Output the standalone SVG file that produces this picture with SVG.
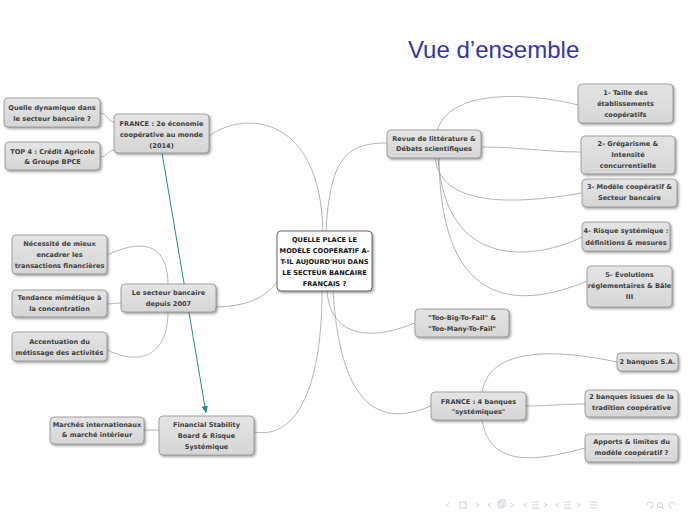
<svg xmlns="http://www.w3.org/2000/svg" width="689" height="517" viewBox="0 0 689 517">
<style>
.n{fill:url(#g);stroke:#8e8e8e;stroke-width:0.8;filter:url(#sh)}
.c{fill:#ffffff;stroke:#555;stroke-width:0.9;filter:url(#sh)}
.t{font-family:"DejaVu Sans",Verdana,sans-serif;font-weight:bold;font-size:6.6px;fill:#404040;text-anchor:middle}
.tc{font-family:"DejaVu Sans",Verdana,sans-serif;font-weight:bold;font-size:6.6px;fill:#111;text-anchor:middle}
.e{fill:none;stroke:#a0a0a0;stroke-width:0.8}
.nav{fill:none;stroke:#c4c4d8;stroke-width:0.8}
</style>
<defs>
<linearGradient id="g" x1="0" y1="0" x2="0" y2="1"><stop offset="0" stop-color="#e4e4e4"/><stop offset="1" stop-color="#d6d6d6"/></linearGradient>
<filter id="sh" x="-10%" y="-10%" width="130%" height="140%"><feDropShadow dx="1.5" dy="1.6" stdDeviation="0.8" flood-color="#555" flood-opacity="0.55"/></filter>
<marker id="ar" markerWidth="8" markerHeight="8" refX="7" refY="4" orient="auto" markerUnits="userSpaceOnUse"><path d="M0,0.8 L7,4 L0,7.2 Z" fill="#1f8a8c"/></marker>
</defs>
<rect width="689" height="517" fill="#fff"/>
<text x="408" y="58" font-family="Liberation Sans, Arial, sans-serif" font-size="24" fill="#3434a8">Vue d’ensemble</text>

<g id="connectors">
<path class="e" d="M100,113 C107,113 108,122 114,122"/>
<path class="e" d="M100,157 C107,157 108,150 114,150"/>
<path class="e" d="M209,136 C245,110 320,115 323,231"/>
<path class="e" d="M326,231 C330,160 345,143 387,143"/>
<path class="e" d="M216,307 C245,306 265,300 280,278"/>
<path class="e" d="M254,432 C300,440 322,380 322,291"/>
<path class="e" d="M327,291 C330,330 360,345 415,323"/>
<path class="e" d="M333,291 C340,400 375,430 431,406"/>
<path class="e" d="M437,131 C450,85 540,95 578,105"/>
<path class="e" d="M481,147 C520,147 545,152 581,152"/>
<path class="e" d="M435,157 C440,215 540,200 582,193"/>
<path class="e" d="M438,157 C445,275 540,258 582,237"/>
<path class="e" d="M439,157 C440,320 530,305 587,281"/>
<path class="e" d="M482,392 C490,345 560,350 617,362"/>
<path class="e" d="M526,406 C550,406 560,404 585,404"/>
<path class="e" d="M482,420 C490,470 540,460 585,448"/>
<path class="e" d="M107,255 C150,235 168,250 168,285"/>
<path class="e" d="M107,304 C112,304 116,303 121,303"/>
<path class="e" d="M107,350 C150,370 168,345 168,312"/>
<path class="e" d="M144,430 L159,430"/>
<path id="arrow" d="M162,153 L206,413" fill="none" stroke="#1f8a8c" stroke-width="1" marker-end="url(#ar)"/>
</g>

<g id="q1"><rect class="n" x="4" y="98" width="96" height="29" rx="4"/><text class="t" x="52" y="109.5">Quelle dynamique dans</text><text class="t" x="52" y="120.5">le secteur bancaire ?</text></g>
<g id="top4"><rect class="n" x="5" y="142" width="95" height="28" rx="4"/><text class="t" x="52.5" y="153.5">TOP 4 : Crédit Agricole</text><text class="t" x="52.5" y="164">&amp; Groupe BPCE</text></g>
<g id="fr2"><rect class="n" x="114" y="114" width="95" height="39" rx="4"/><text class="t" x="161.5" y="125.5">FRANCE : 2e économie</text><text class="t" x="161.5" y="136.6">coopérative au monde</text><text class="t" x="161.5" y="147.8">(2014)</text></g>
<g id="nec"><rect class="n" x="12" y="235" width="95" height="39" rx="4"/><text class="t" x="59.5" y="245.6">Nécessité de mieux</text><text class="t" x="59.5" y="256.6">encadrer les</text><text class="t" x="59.5" y="267.6">transactions financières</text></g>
<g id="tend"><rect class="n" x="12" y="290" width="95" height="27" rx="4"/><text class="t" x="59.5" y="299.6">Tendance mimétique à</text><text class="t" x="59.5" y="310.6">la concentration</text></g>
<g id="acc"><rect class="n" x="12" y="332" width="95" height="29" rx="4"/><text class="t" x="59.5" y="344.4">Accentuation du</text><text class="t" x="59.5" y="355.4">métissage des activités</text></g>
<g id="sect"><rect class="n" x="121" y="284" width="95" height="28" rx="4"/><text class="t" x="168.5" y="294.6">Le secteur bancaire</text><text class="t" x="168.5" y="305.6">depuis 2007</text></g>
<g id="mar"><rect class="n" x="50" y="417" width="94" height="27" rx="4"/><text class="t" x="97" y="426.6">Marchés internationaux</text><text class="t" x="97" y="437.4">&amp; marché intérieur</text></g>
<g id="fsb"><rect class="n" x="159" y="416" width="95" height="39" rx="4"/><text class="t" x="206.5" y="426.6">Financial Stability</text><text class="t" x="206.5" y="437.6">Board &amp; Risque</text><text class="t" x="206.5" y="448.6">Systémique</text></g>
<g id="center"><rect class="c" x="277" y="231" width="95" height="60" rx="4"/><text class="tc" x="324.5" y="242.4">QUELLE PLACE LE</text><text class="tc" x="324.5" y="253.2">MODÈLE COOPÉRATIF A-</text><text class="tc" x="324.5" y="264">T-IL AUJOURD'HUI DANS</text><text class="tc" x="324.5" y="274.8">LE SECTEUR BANCAIRE</text><text class="tc" x="324.5" y="285.6">FRANÇAIS ?</text></g>
<g id="revue"><rect class="n" x="387" y="130" width="94" height="28" rx="4"/><text class="t" x="434" y="140.5">Revue de littérature &amp;</text><text class="t" x="434" y="151.4">Débats scientifiques</text></g>
<g id="b1"><rect class="n" x="578" y="84" width="95" height="39" rx="4"/><text class="t" x="625.5" y="94.5">1- Taille des</text><text class="t" x="625.5" y="105.5">établissements</text><text class="t" x="625.5" y="116.5">coopératifs</text></g>
<g id="b2"><rect class="n" x="581" y="136" width="94" height="38" rx="4"/><text class="t" x="628" y="146.4">2- Grégarisme &amp;</text><text class="t" x="628" y="157.4">Intensité</text><text class="t" x="628" y="168.4">concurrentielle</text></g>
<g id="b3"><rect class="n" x="582" y="179" width="95" height="28" rx="4"/><text class="t" x="629.5" y="189.4">3- Modèle coopératif &amp;</text><text class="t" x="629.5" y="200.4">Secteur bancaire</text></g>
<g id="b4"><rect class="n" x="582" y="222" width="88" height="29" rx="4"/><text class="t" x="626" y="233.4">4- Risque systémique :</text><text class="t" x="626" y="244.6">définitions &amp; mesures</text></g>
<g id="b5"><rect class="n" x="587" y="266" width="85" height="41" rx="4"/><text class="t" x="629.5" y="277.4">5- Évolutions</text><text class="t" x="629.5" y="288.4">réglementaires &amp; Bâle</text><text class="t" x="629.5" y="299.4">III</text></g>
<g id="tbf"><rect class="n" x="415" y="309" width="94" height="28" rx="4"/><text class="t" x="462" y="320.4">"Too-Big-To-Fail" &amp;</text><text class="t" x="462" y="330.8">"Too-Many-To-Fail"</text></g>
<g id="fr4"><rect class="n" x="431" y="392" width="95" height="28" rx="4"/><text class="t" x="478.5" y="404.2">FRANCE : 4 banques</text><text class="t" x="478.5" y="414.4">"systémiques"</text></g>
<g id="sa"><rect class="n" x="617" y="353" width="61" height="18" rx="4"/><text class="t" x="647.5" y="364.4">2 banques S.A.</text></g>
<g id="tradi"><rect class="n" x="585" y="390" width="93" height="27" rx="4"/><text class="t" x="631.5" y="399.4">2 banques issues de la</text><text class="t" x="631.5" y="410.4">tradition coopérative</text></g>
<g id="apports"><rect class="n" x="585" y="434" width="93" height="28" rx="4"/><text class="t" x="631.5" y="444.4">Apports &amp; limites du</text><text class="t" x="631.5" y="455.4">modèle coopératif ?</text></g>

<g id="nav">
<path class="nav" d="M449,503 L446,505 L449,507"/><rect class="nav" x="460" y="502" width="6" height="6"/><path class="nav" d="M476,503 L479,505 L476,507"/>
<path class="nav" d="M491,503 L488,505 L491,507"/><rect class="nav" x="498" y="502" width="5" height="6"/><rect class="nav" x="500" y="500" width="5" height="6"/><path class="nav" d="M511,503 L514,505 L511,507"/>
<path class="nav" d="M527,503 L524,505 L527,507"/><path class="nav" d="M532,502 H539 M532,505 H539 M532,508 H539"/><path class="nav" d="M544,503 L547,505 L544,507"/>
<path class="nav" d="M559,503 L556,505 L559,507"/><path class="nav" d="M564,502 H571 M564,505 H571 M564,508 H571"/><path class="nav" d="M577,503 L580,505 L577,507"/>
<path class="nav" d="M590,502 H597 M590,505 H597 M590,508 H597"/>
<path class="nav" d="M647,505 A3,3 0 1 1 650,508"/><circle class="nav" cx="660" cy="505" r="2.6"/><path class="nav" d="M662,507 L664,509"/><path class="nav" d="M675,505 A3,3 0 1 0 672,508"/>
</g>
</svg>
